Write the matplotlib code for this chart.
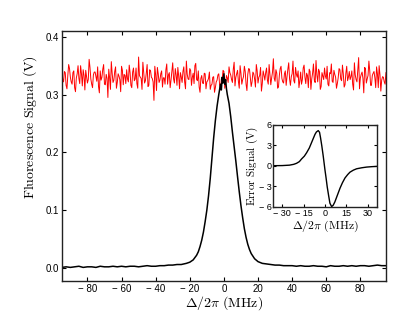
import numpy as np
import matplotlib
matplotlib.use("Agg")
import matplotlib.pyplot as plt
from matplotlib.ticker import FuncFormatter

plt.rcParams['mathtext.fontset'] = 'cm'
plt.rcParams['font.family'] = ['Liberation Sans', 'DejaVu Sans']

# fluorescence trace (black), V
peak_x = [-95, -92.5, -90, -87.5, -85, -82.5, -80, -77.5, -75, -72.5, -70, -67.5,
          -65, -62.5, -60, -57.5, -55, -52.5, -50, -47.5, -45, -42.5, -40, -37.5,
          -35, -32.5, -30, -27.5, -25, -22, -20, -18, -16, -15, -14, -13, -12, -11,
          -10, -9, -8, -7, -6, -5, -4, -3, -2, -1.5, -1, -0.5, 0, 0.5, 1, 1.5, 2,
          3, 4, 5, 6, 7, 8, 9, 10, 11, 12, 13, 14, 15, 16, 18, 20, 22.5, 25, 27.5,
          30, 32.5, 35, 37.5, 40, 42.5, 45, 47.5, 50, 52.5, 55, 57.5, 60, 62.5, 65,
          67.5, 70, 72.5, 75, 77.5, 80, 82.5, 85, 87.5, 90, 92.5, 95]
peak_y = [0.001, 0.002, 0.001, 0.002, 0.003, 0.001, 0.002, 0.002, 0.001, 0.003,
          0.002, 0.002, 0.003, 0.002, 0.003, 0.002, 0.003, 0.003, 0.002, 0.003,
          0.004, 0.003, 0.003, 0.004, 0.004, 0.005, 0.005, 0.006, 0.006, 0.008,
          0.010, 0.014, 0.022, 0.028, 0.037, 0.048, 0.062, 0.080, 0.100, 0.125,
          0.155, 0.190, 0.225, 0.255, 0.280, 0.300, 0.318, 0.308, 0.330, 0.320,
          0.336, 0.318, 0.326, 0.310, 0.300, 0.285, 0.262, 0.235, 0.210, 0.185,
          0.158, 0.132, 0.108, 0.087, 0.068, 0.053, 0.041, 0.032, 0.025, 0.016,
          0.011, 0.008, 0.007, 0.006, 0.005, 0.005, 0.004, 0.004, 0.004, 0.003,
          0.004, 0.003, 0.003, 0.004, 0.003, 0.003, 0.002, 0.004, 0.003, 0.003,
          0.004, 0.003, 0.004, 0.003, 0.004, 0.004, 0.003, 0.004, 0.005, 0.004,
          0.004]

# reference level (red), mV, every 0.5 MHz from -95 to 95 (whole and half MHz)
ref_mv = [345, 322, 338, 310, 352, 330, 318, 341, 305, 336, 328, 350, 315, 333, 342, 320, 361, 327, 312, 339,
          331, 348, 303, 325, 344, 318, 335, 295, 329, 357, 321, 340, 311, 336, 326, 349, 317, 333, 343, 322,
          338, 312, 346, 327, 319, 365, 330, 309, 337, 324, 352, 316, 341, 328, 290, 334, 347, 321, 336, 313,
          329, 343, 318, 338, 325, 355, 320, 334, 347, 310, 331, 340, 322, 358, 327, 345, 316, 337, 350, 326,
          341, 304, 333, 319, 336, 322, 328, 309, 318, 331, 312, 325, 336, 308, 327, 340, 317, 329, 348, 334,
          321, 356, 330, 342, 311, 337, 326, 349, 318, 335, 344, 314, 339, 327, 352, 320, 333, 306, 341, 325,
          346, 318, 334, 329, 362, 323, 337, 313, 345, 328, 320, 341, 331, 355, 316, 336, 324, 347, 330, 312,
          339, 326, 351, 319, 333, 344, 309, 337, 325, 359, 322, 340, 314, 332, 346, 327, 318, 338, 353, 321,
          335, 311, 329, 343, 324, 336, 317, 349, 330, 326, 341, 308, 334, 322, 364, 329, 339, 303, 345, 327,
          358, 316, 333, 340, 312, 336, 350, 306, 331, 322, 338]
ref_mv_half = [327, 340, 316, 333, 345, 322, 338, 312, 329, 350, 319, 336, 343, 308, 331, 326, 347, 318, 334, 339,
               323, 314, 341, 330, 352, 317, 328, 344, 309, 337, 325, 348, 321, 332, 305, 342, 335, 319, 327, 351,
               316, 339, 324, 346, 311, 333, 328, 356, 320, 337, 314, 343, 330, 322, 349, 307, 336, 325, 341, 329,
               318, 353, 334, 312, 340, 327, 345, 316, 332, 338, 321, 348, 310, 335, 326, 342, 330, 319, 354, 324,
               313, 328, 320, 337, 310, 324, 339, 316, 330, 304, 322, 334, 317, 327, 342, 311, 333, 321, 338, 326,
               344, 315, 336, 323, 350, 318, 331, 340, 307, 345, 329, 322, 336, 313, 341, 330, 347, 319, 334, 338,
               325, 352, 317, 339, 328, 343, 311, 333, 349, 322, 336, 316, 344, 327, 331, 358, 320, 335, 341, 324,
               318, 346, 330, 337, 312, 340, 327, 353, 321, 334, 344, 309, 338, 326, 332, 349, 315, 336, 323, 342,
               330, 319, 345, 327, 351, 313, 337, 324, 340, 331, 318, 355, 326, 342, 310, 335, 328, 347, 320, 333,
               341, 316, 337, 329, 348, 312, 334, 325, 330, 318]

# error signal (inset), V
err_x = [-36.5, -30, -25, -22, -20, -18, -16.4, -14.5, -12.9, -11, -9.4, -8, -7,
         -6, -4.7, -3.8, -3.1, -2.2, -1.2, 0, 0.8, 1.6, 2.6, 3.5, 4.7, 5.8, 7,
         8.8, 10.6, 12.3, 14.1, 16, 17.6, 20, 22.3, 26, 29.4, 33, 36.5]
err_y = [0.0, 0.02, 0.08, 0.2, 0.35, 0.6, 1.0, 1.4, 1.9, 2.6, 3.4, 4.1, 4.6,
         4.95, 5.15, 4.9, 4.1, 2.9, 1.4, -0.6, -1.8, -3.1, -4.4, -5.5, -6.0,
         -5.8, -5.3, -4.3, -3.3, -2.5, -1.8, -1.3, -0.95, -0.65, -0.45, -0.3,
         -0.2, -0.14, -0.1]


def minus_fmt(fmt):
    def f(v, pos):
        s = fmt % abs(v)
        return ('\u2212 ' + s) if v < -1e-9 else s
    return FuncFormatter(f)


def style(ax, size):
    ax.tick_params(direction='in', top=True, right=True, length=3, width=0.8,
                   labelsize=size, pad=2)
    for sp in ax.spines.values():
        sp.set_color('#222222')
        sp.set_linewidth(1.0)


ref_x = np.arange(-95, 95.01, 0.5)
ref_y = np.empty(len(ref_x))
ref_y[0::2] = ref_mv
ref_y[1::2] = ref_mv_half
ref_y = ref_y / 1000.0

fig = plt.figure(figsize=(4.15, 3.12), dpi=100)
ax = fig.add_axes([0.149, 0.0994, 0.781, 0.8012])
ax.plot(ref_x, ref_y, color='red', lw=0.7)
ax.plot(peak_x, peak_y, color='black', lw=1.1)
ax.set_xlim(-95, 95)
ax.set_ylim(-0.0225, 0.41)
ax.set_xticks([-80, -60, -40, -20, 0, 20, 40, 60, 80])
ax.set_yticks([0.0, 0.1, 0.2, 0.3, 0.4])
ax.xaxis.set_major_formatter(minus_fmt('%g'))
ax.yaxis.set_major_formatter(FuncFormatter(lambda v, p: '%.1f' % v))
style(ax, 7)
ax.set_xlabel(r'$\Delta/2\pi\ \mathrm{(MHz)}$', fontsize=10, labelpad=0.5)
ax.set_ylabel(r'$\mathrm{Fluorescence\ Signal\ (V)}$', fontsize=10)
ax.yaxis.set_label_coords(-0.07, 0.614)

ins = fig.add_axes([0.658, 0.3356, 0.25, 0.2644])
ins.plot(err_x, err_y, color='black', lw=1.0)
ins.set_xlim(-36.5, 36.5)
ins.set_ylim(-6.1, 6.0)
ins.set_xticks([-30, -15, 0, 15, 30])
ins.set_yticks([-6, -3, 0, 3, 6])
ins.xaxis.set_major_formatter(minus_fmt('%g'))
ins.yaxis.set_major_formatter(minus_fmt('%g'))
style(ins, 6.5)
ins.tick_params(length=2.5, pad=1)
ins.set_xlabel(r'$\Delta/2\pi\ \mathrm{(MHz)}$', fontsize=8.5, labelpad=1)
ins.set_ylabel(r'$\mathrm{Error\ Signal\ (V)}$', fontsize=8)
ins.yaxis.set_label_coords(-0.13, 0.5)

fig.savefig('out.png', dpi=100)
